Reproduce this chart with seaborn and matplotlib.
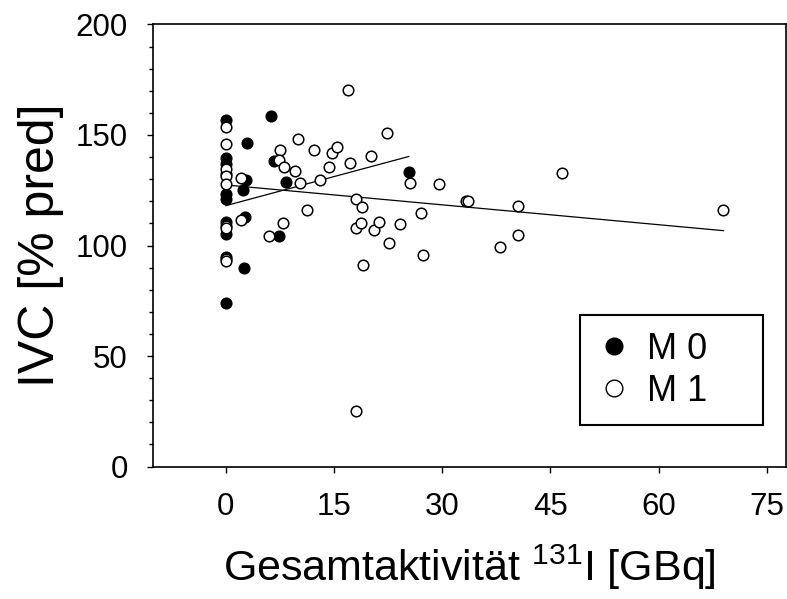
#!/usr/bin/env python3

import numpy as np
import matplotlib
matplotlib.use("Agg")
import matplotlib.pyplot as plt
from matplotlib.lines import Line2D
from matplotlib.ticker import MultipleLocator
import seaborn as sns
from pandas import DataFrame

# values
m0_x = [0, 0, 0, 0, 0, 0, 0, 0, 0, 0,
        3.0, 6.35, 6.7, 8.3, 2.4, 2.8, 2.66, 7.4, 2.5, 25.35]
m0_y = [157.0, 139.5, 137.0, 132.5, 123.5, 121.0, 110.5, 105.0, 94.8, 74.0,
        146.5, 158.5, 138.3, 128.8, 125.3, 129.8, 112.8, 104.2, 89.7, 133.3]

m1_x = [0, 0, 0, 0, 0, 0, 0, 0, 0,
        2.2, 2.2, 6.0, 7.9, 11.3,
        7.6, 7.45, 8.05, 9.6, 10.0, 10.3, 12.25, 13.1, 14.3, 14.7, 15.5,
        17.2, 17.0, 20.1, 22.3,
        18.0, 18.9, 18.0, 18.7, 19.0, 20.6, 21.3, 22.7, 24.1, 18.0,
        25.5, 27.1, 27.4, 29.6, 33.3, 33.6, 38.05, 40.5, 40.5, 46.55, 68.96]
m1_y = [153.5, 146.0, 134.5, 131.5, 127.8, 109.0, 107.8, 94.0, 93.2,
        130.5, 111.5, 104.3, 110.4, 116.0,
        143.2, 138.5, 135.6, 133.7, 148.4, 128.3, 143.4, 129.5, 135.6, 141.8, 144.5,
        137.5, 170.2, 140.5, 150.7,
        121.0, 117.3, 107.8, 110.0, 91.4, 106.8, 110.6, 101.2, 109.6, 25.1,
        128.3, 114.7, 95.6, 128.0, 120.0, 120.0, 99.2, 118.0, 104.8, 132.9, 116.1]

# regression lines (intercept, slope, x range) as drawn in the reference
m0_fit = (118.0, 0.878, 0.0, 25.4)
m1_fit = (127.4, -0.300, 0.0, 69.0)

x_ticks = [0, 15, 30, 45, 60, 75]
y_ticks = [0, 50, 100, 150, 200]


def main():
    sns.set_style("white")
    plt.rcParams['font.family'] = ['Liberation Sans', 'DejaVu Sans']
    plt.rcParams['mathtext.fontset'] = 'custom'
    plt.rcParams['mathtext.rm'] = 'Liberation Sans'
    plt.rcParams['mathtext.it'] = 'Liberation Sans'
    for key in ['text.color', 'axes.labelcolor', 'xtick.color', 'ytick.color']:
        plt.rcParams[key] = 'black'

    df = DataFrame({
        'x': m0_x + m1_x,
        'y': m0_y + m1_y,
        'group': ['M 0'] * len(m0_x) + ['M 1'] * len(m1_x),
    })

    fig = plt.figure(figsize=(7.87, 5.99), dpi=100)
    ax = fig.add_axes([0.194, 0.2212, 0.8045, 0.7379])

    for name, face in [('M 0', 'black'), ('M 1', 'white')]:
        sns.scatterplot(data=df[df['group'] == name], x='x', y='y',
                        color=face, edgecolor='black', linewidth=1.1,
                        s=58, ax=ax, zorder=3, legend=False)

    for b0, b1, lo, hi in [m0_fit, m1_fit]:
        xs = np.array([lo, hi])
        ax.plot(xs, b0 + b1 * xs, color='black', linewidth=0.9, zorder=2)

    ax.set_xlim(-10.1, 77.6)
    ax.set_ylim(0, 200)
    ax.set_xticks(x_ticks)
    ax.set_yticks(y_ticks)
    ax.yaxis.set_minor_locator(MultipleLocator(10))

    for side in ['left', 'right', 'top', 'bottom']:
        ax.spines[side].set_color('black')
        ax.spines[side].set_linewidth(1.2)

    ax.tick_params(axis='both', which='major', direction='out', length=4.5,
                   width=1.0, color='black', labelcolor='black', labelsize=22.5)
    ax.tick_params(axis='y', which='major', pad=13.5, left=True)
    ax.tick_params(axis='x', which='major', pad=14, bottom=True)
    ax.tick_params(axis='y', which='minor', direction='out', length=3,
                   width=1.0, color='black', left=True)

    ax.set_xlabel(r"Gesamtaktivität $^{131}$I [GBq]", fontsize=31,
                  labelpad=15, color='black')
    ax.set_ylabel("IVC [% pred]", fontsize=36, labelpad=8, color='black')

    handles = [
        Line2D([], [], linestyle='', marker='o', markersize=12,
               markerfacecolor='black', markeredgecolor='black'),
        Line2D([], [], linestyle='', marker='o', markersize=12,
               markerfacecolor='white', markeredgecolor='black',
               markeredgewidth=1.0),
    ]
    leg = ax.legend(handles, ['M 0', 'M 1'], loc='lower left',
                    bbox_to_anchor=(0.6746, 0.0939, 0.2898, 0.2641),
                    mode='expand', fontsize=26, frameon=True, fancybox=False,
                    handletextpad=0.4, handlelength=1.0, labelspacing=0.2,
                    borderaxespad=0, borderpad=0.45)
    leg.get_frame().set_edgecolor('black')
    leg.get_frame().set_linewidth(1.5)
    leg.get_frame().set_alpha(1)
    for text in leg.get_texts():
        text.set_color('black')

    plt.savefig('out.png', dpi=100)


if __name__ == "__main__":
    main()
